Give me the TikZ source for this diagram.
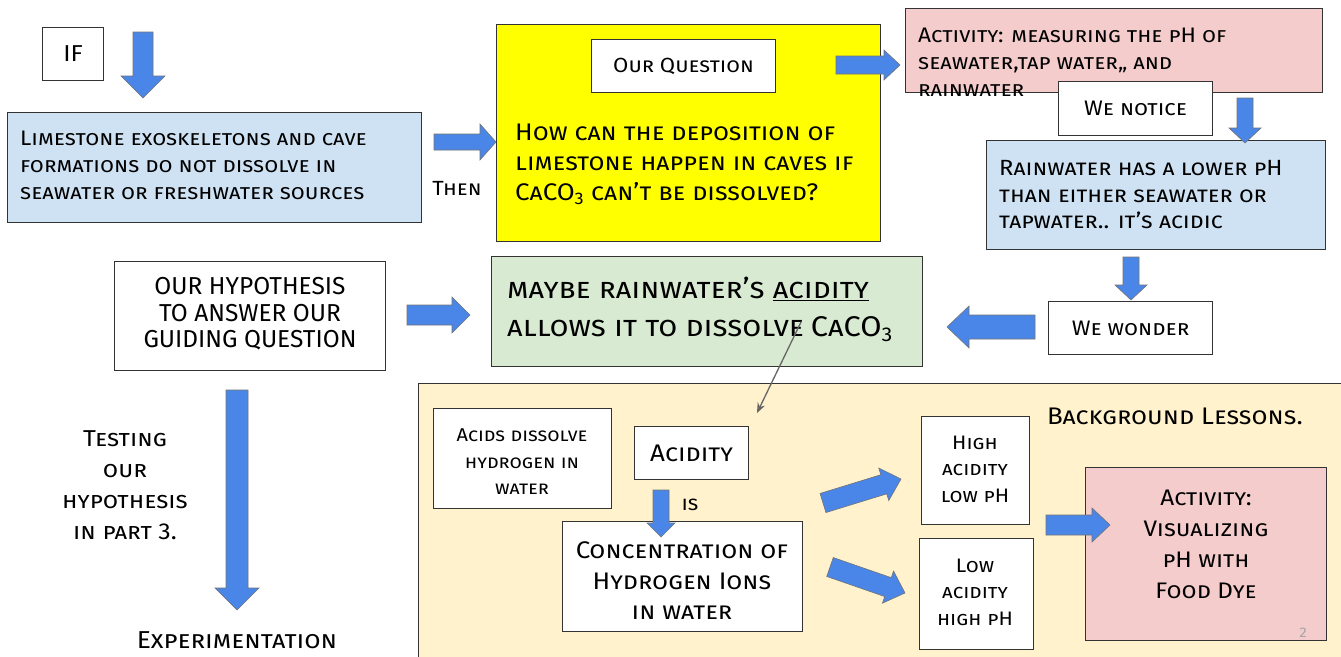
\documentclass[tikz,border=0pt]{standalone}
\usepackage{fontspec}
\setmainfont{Fira Sans}[Letters=SmallCaps, FakeStretch=1.08]
\newfontfamily\capsfont{Fira Sans}
\usetikzlibrary{calc,arrows.meta}
\definecolor{lblue}{HTML}{CFE2F3}
\definecolor{yel}{HTML}{FFFF00}
\definecolor{pinkc}{HTML}{F4CCCC}
\definecolor{greenc}{HTML}{D9EAD3}
\definecolor{cream}{HTML}{FFF2CC}
\definecolor{abluec}{HTML}{4A86E8}
\definecolor{edge}{HTML}{333333}
\tikzset{
  box/.style={draw=edge, line width=1.1pt, anchor=north west, inner sep=0pt},
  txt/.style={align=center, inner sep=0pt, font=\fontsize{21}{27}\selectfont},
  barrow/.style={fill=abluec, draw=black!55, line width=0.6pt, line join=miter},
}
% #1 start, #2 end, #3 shaft half width, #4 head half width, #5 head length
\newcommand\blockarrow[5]{%
  \draw[barrow] let \p1=(#1), \p2=(#2), \n1={atan2(\y2-\y1,\x2-\x1)},
    \n2={veclen(\x2-\x1,\y2-\y1)} in
    [shift={(\p1)}, rotate=\n1]
    (0,-#3) -- (\n2-#5,-#3) -- (\n2-#5,-#4) -- (\n2,0) -- (\n2-#5,#4) -- (\n2-#5,#3) -- (0,#3) -- cycle;
}
\begin{document}
\begin{tikzpicture}[x=1pt,y=-1pt]
\useasboundingbox (0,0) rectangle (1341,656);
\fill[white] (0,0) rectangle (1341,656);

% background panel
\node[box, fill=cream, minimum width=923pt, minimum height=280pt] (bg) at (418,383) {};
\node[txt, font=\fontsize{24}{28}\selectfont] (bgl) at (1175,416) {Background Lessons.};

% IF
\node[box, minimum width=61pt, minimum height=53pt] (ifb) at (42,27) {};
\node[txt, font=\fontsize{23}{26}\selectfont] (ift) at (ifb.center) {IF};

% limestone
\node[box, fill=lblue, minimum width=414pt, minimum height=110pt] (lime) at (7,112) {};
\node[txt, align=left, anchor=west] (limet) at (20,165) {Limestone exoskeletons and cave\\formations do not dissolve in\\seawater or freshwater sources};
\node[txt, font=\fontsize{20.5}{24}\selectfont] (then) at (457,188) {Then};

% yellow question
\node[box, fill=yel, minimum width=384pt, minimum height=217pt] (yq) at (496,24) {};
\node[box, fill=white, minimum width=184pt, minimum height=53pt] (oq) at (591,39) {};
\node[txt, font=\fontsize{20.5}{24}\selectfont] (oqt) at (oq.center) {Our Question};
\node[txt, align=left, anchor=west, font=\fontsize{24}{30}\selectfont] (qt) at (515,164) {How can the deposition of\\limestone happen in caves if\\CaCO\textsubscript{3} can't be dissolved?};

% activity top
\node[box, fill=pinkc, minimum width=417pt, minimum height=84pt] (act1) at (905,8) {};
\node[txt, align=left, anchor=west, font=\fontsize{21}{27}\selectfont] (act1t) at (918,62) {Activity: measuring the pH of\\seawater,tap water,, and\\rainwater};
\node[box, fill=white, minimum width=154pt, minimum height=54pt] (notice) at (1058,81) {};
\node[txt, font=\fontsize{21}{24}\selectfont] (noticet) at (notice.center) {We notice};

% rainwater
\node[box, fill=lblue, minimum width=339pt, minimum height=109pt] (rain) at (986,140) {};
\node[txt, align=left, anchor=west, font=\fontsize{22}{26.5}\selectfont] (raint) at (999,195) {Rainwater has a lower pH\\than either seawater or\\tapwater.. it's acidic};

% we wonder
\node[box, fill=white, minimum width=164pt, minimum height=53pt] (wonder) at (1048,301) {};
\node[txt, font=\fontsize{21}{24}\selectfont] (wondert) at (wonder.center) {We wonder};

% green hypothesis
\node[box, fill=greenc, minimum width=431pt, minimum height=110pt] (hyp) at (491,256) {};
\node[txt, align=left, anchor=west, font=\fontsize{28.5}{38}\selectfont] (hypt) at (507,309) {maybe rainwater's \underline{acidity}\\allows it to dissolve\hspace{7pt}CaCO\textsubscript{3}};

% our hypothesis box
\node[box, fill=white, minimum width=271pt, minimum height=109pt] (ohyp) at (114,261) {};
\node[txt, font=\capsfont\fontsize{24.5}{26.5}\selectfont] (ohypt) at (250,314) {OUR HYPOTHESIS\\TO ANSWER OUR\\GUIDING QUESTION};

% testing
\node[txt, font=\fontsize{23}{31}\selectfont] (test) at (125,485) {Testing\\our\\hypothesis\\in part 3.};
\node[txt, font=\fontsize{24.5}{28}\selectfont] (exper) at (237,640) {Experimentation};

% background lessons content
\node[box, fill=white, minimum width=178pt, minimum height=100pt] (acids) at (433,408) {};
\node[txt, font=\fontsize{18.5}{26.5}\selectfont] (acidst) at (522,462) {Acids dissolve\\hydrogen in\\water};
\node[box, fill=white, minimum width=114pt, minimum height=53pt] (acid) at (634,426) {};
\node[txt, font=\fontsize{24}{26}\selectfont] (acidt) at (acid.center) {Acidity};
\node[txt, font=\fontsize{20}{22}\selectfont] (is) at (690,505) {is};
\node[box, fill=white, minimum width=240pt, minimum height=110pt] (conc) at (562,521) {};
\node[txt, font=\fontsize{24}{30.5}\selectfont] (conct) at (682,581) {Concentration of\\Hydrogen Ions\\in water};
\node[box, fill=white, minimum width=108pt, minimum height=108pt] (high) at (921,416) {};
\node[txt, font=\fontsize{19.5}{26.5}\selectfont] (hight) at (975,469) {High\\acidity\\low pH};
\node[box, fill=white, minimum width=114pt, minimum height=111pt] (low) at (919,538) {};
\node[txt, font=\fontsize{19.5}{26.5}\selectfont] (lowt) at (975,592) {Low\\acidity\\high\hspace{6pt}pH};
\node[box, fill=pinkc, minimum width=241pt, minimum height=173pt] (act2) at (1085,467) {};
\node[txt, font=\fontsize{22.5}{31}\selectfont] (act2t) at (1206,544) {Activity:\\Visualizing\\pH with\\Food Dye};
\node[txt, font=\fontsize{14}{16}\selectfont, text=black!35] (pg) at (1303,633) {2};

% gray connector
\coordinate (gs) at (801,322);
\coordinate (ge) at (757,413);
\draw[black!60, line width=1.3pt, -{Stealth[length=10pt,width=8pt]}] (gs) -- (ge);

% block arrows
\coordinate (a1s) at (143,32);   \coordinate (a1e) at (143,98);
\coordinate (a2s) at (434,142);  \coordinate (a2e) at (496,142);
\coordinate (a3s) at (836,65);   \coordinate (a3e) at (900,65);
\coordinate (a4s) at (1245,98);  \coordinate (a4e) at (1245,143);
\coordinate (a5s) at (1131,257); \coordinate (a5e) at (1131,300);
\coordinate (a6s) at (1035,327); \coordinate (a6e) at (947,327);
\coordinate (a7s) at (407,315);  \coordinate (a7e) at (470,315);
\coordinate (a8s) at (237,390);  \coordinate (a8e) at (237,610);
\coordinate (a9s) at (661,490);  \coordinate (a9e) at (661,537);
\coordinate (a10s) at (823,503); \coordinate (a10e) at (901,479);
\coordinate (a11s) at (830,567); \coordinate (a11e) at (905,593);
\coordinate (a12s) at (1046,525);\coordinate (a12e) at (1110,525);
\blockarrow{a1s}{a1e}{10}{22}{22}
\blockarrow{a2s}{a2e}{8}{18}{16}
\blockarrow{a3s}{a3e}{9}{15}{16}
\blockarrow{a4s}{a4e}{8}{16}{15}
\blockarrow{a5s}{a5e}{8}{16}{15}
\blockarrow{a6s}{a6e}{12}{21}{22}
\blockarrow{a7s}{a7e}{10}{18}{18}
\blockarrow{a8s}{a8e}{11}{22}{22}
\blockarrow{a9s}{a9e}{8}{14}{14}
\blockarrow{a10s}{a10e}{10}{17}{18}
\blockarrow{a11s}{a11e}{10}{17}{18}
\blockarrow{a12s}{a12e}{10}{17}{18}
\end{tikzpicture}
\end{document}
